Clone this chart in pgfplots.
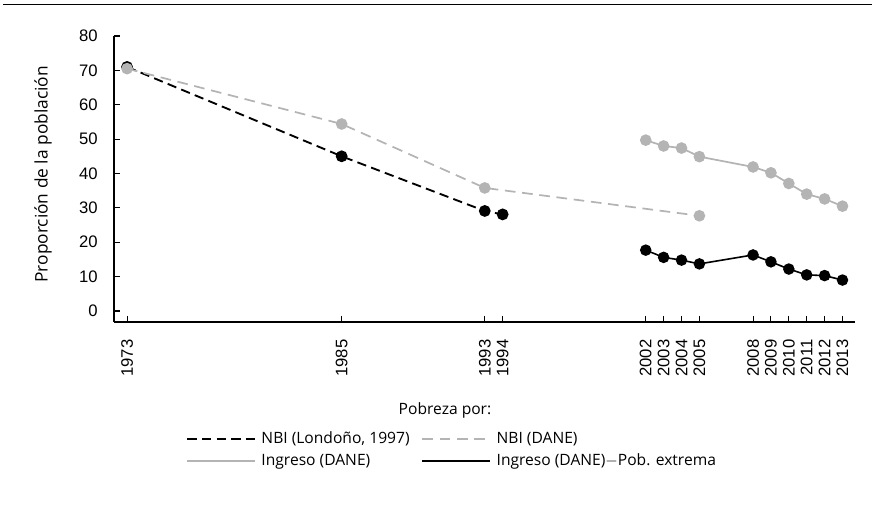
\documentclass[border=0pt]{standalone}
\usepackage{pgfplots}
\pgfplotsset{compat=1.18}
\usepackage{fontspec}
\setmainfont{Open Sans}
\newfontfamily\numfont{Liberation Sans}
\definecolor{lgray}{HTML}{B4B4B4}
\begin{document}
\begin{tikzpicture}
\useasboundingbox (0pt,0pt) rectangle (654pt,378.75pt);
\draw[line width=1.1pt] (2.25pt,375.2pt) -- (654pt,375.2pt);
\begin{axis}[
  at={(85.5pt,137.25pt)}, anchor=south west, scale only axis,
  width=555.75pt, height=214.5pt,
  xmin=1972.27, xmax=2013.7, ymin=-3.2, ymax=80,
  clip=false,
  axis x line*=bottom, axis y line*=left,
  axis line style={-, line width=0.9pt},
  tick align=inside, major tick length=4.5pt,
  tick style={line width=0.8pt, black},
  xtick={1973,1985,1993,1994,2002,2003,2004,2005,2008,2009,2010,2011,2012,2013},
  ytick={0,10,...,80},
  /pgf/number format/assume math mode=true,
  /pgf/number format/1000 sep={},
  xticklabel style={rotate=90, anchor=east, inner xsep=13pt, font=\numfont\fontsize{12.5}{14}\selectfont},
  yticklabel style={inner xsep=12pt, font=\numfont\fontsize{12.5}{14}\selectfont},
  legend style={at={(0.0918,-0.365)}, anchor=north west, draw=none, fill=none,
    font=\fontsize{11.7}{13.5}\selectfont, legend columns=2,
    /tikz/every even column/.append style={column sep=7pt},
    row sep=2pt},
  legend cell align=left,
  legend image code/.code={\draw[#1] (0pt,0pt) -- (51pt,0pt); \path (53pt,0pt);},
]
\addplot[black, line width=1.4pt, dash pattern=on 7pt off 4pt, mark=*, mark size=3.7pt, mark options={solid, fill=black}]
  coordinates {(1973,71.0) (1985,45.0) (1993,29.1) (1994,28.1)};
\addlegendentry{NBI (Londoño, 1997)}
\addplot[lgray, line width=1.3pt, dash pattern=on 8pt off 5pt, mark=*, mark size=3.7pt, mark options={solid, fill=lgray}]
  coordinates {(1973,70.5) (1985,54.4) (1993,35.8) (2005,27.7)};
\addlegendentry{NBI (DANE)}
\addplot[lgray, line width=1.3pt, mark=*, mark size=3.7pt, mark options={fill=lgray}]
  coordinates {(2002,49.7) (2003,48.0) (2004,47.4) (2005,44.9) (2008,41.9) (2009,40.2) (2010,37.1) (2011,34.0) (2012,32.6) (2013,30.5)};
\addlegendentry{Ingreso (DANE)}
\addplot[black, line width=1.2pt, mark=*, mark size=3.7pt, mark options={fill=black}]
  coordinates {(2002,17.7) (2003,15.6) (2004,14.8) (2005,13.7) (2008,16.3) (2009,14.3) (2010,12.2) (2011,10.5) (2012,10.3) (2013,9.0)};
\addlegendentry{Ingreso (DANE)$-$Pob. extrema}
\end{axis}
\node[rotate=90, font=\fontsize{13}{15}\selectfont] at (32.25pt,248pt) {Proporción de la población};
\node[font=\fontsize{11.7}{13.5}\selectfont] at (333.75pt,71.25pt) {Pobreza por:};
\end{tikzpicture}
\end{document}
